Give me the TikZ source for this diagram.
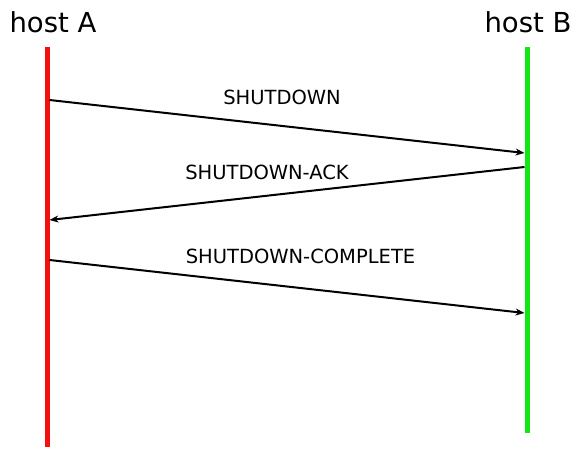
\documentclass[tikz,border=0pt]{standalone}
\usepackage{fontspec}
\setmainfont{DejaVu Sans}
\usetikzlibrary{arrows.meta}
\definecolor{hostred}{RGB}{245,15,15}
\definecolor{hostgreen}{RGB}{20,230,20}

\begin{document}
\begin{tikzpicture}[x=1pt, y=-1pt, >={Stealth[length=9pt,width=7pt]},
        host node/.style={inner sep=0pt, font=\fontsize{27.5}{30}\selectfont},
        msg node/.style={inner sep=0pt, font=\fontsize{19.5}{22}\selectfont},
        life line/.style={line width=5pt},
        msg line/.style={->, line width=2pt}]
    \useasboundingbox (0,0) rectangle (584,454);

    % Hosty
    \node[host node] (hostA) at (53,22) {host A};
    \node[host node] (hostB) at (528,22) {host B};

    % Linie zycia
    \coordinate (A0) at (47,47);
    \coordinate (A1) at (47,447);
    \coordinate (B0) at (527,47);
    \coordinate (B1) at (527,433);
    \draw[life line, hostred] (A0) -- (A1);
    \draw[life line, hostgreen] (B0) -- (B1);

    % Punkty wiadomosci
    \coordinate (a1) at (49.5,100);
    \coordinate (b1) at (524.5,153);
    \coordinate (b2) at (524.5,167);
    \coordinate (a2) at (49.5,220);
    \coordinate (a3) at (49.5,260);
    \coordinate (b3) at (524.5,313);

    % Wiadomosci
    \path (a1) edge[msg line] (b1);
    \path (b2) edge[msg line] (a2);
    \path (a3) edge[msg line] (b3);

    \node[msg node] (shutdown) at (282,97) {SHUTDOWN};
    \node[msg node] (ack) at (267,172) {SHUTDOWN-ACK};
    \node[msg node] (complete) at (300.5,256) {SHUTDOWN-COMPLETE};
\end{tikzpicture}
\end{document}
